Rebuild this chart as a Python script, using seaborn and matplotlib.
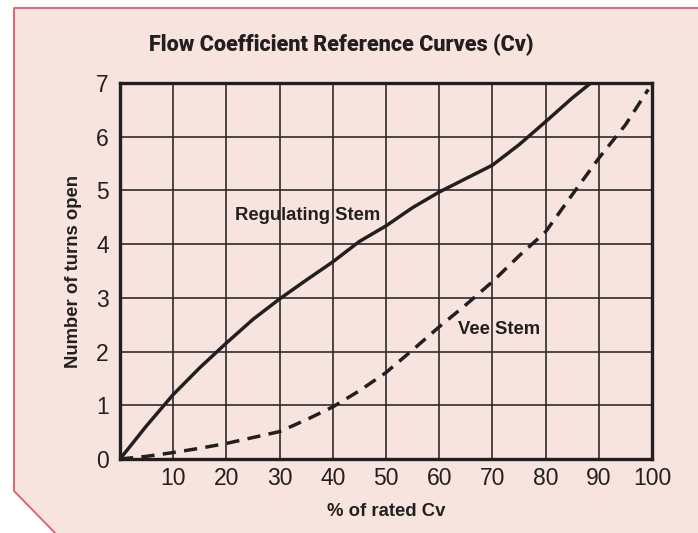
import numpy as np
import pandas as pd
import matplotlib
matplotlib.use("Agg")
import matplotlib.pyplot as plt
from matplotlib.patches import Polygon
from matplotlib.lines import Line2D
import seaborn as sns

# Curve readings (percent of rated Cv vs. number of turns open)
reg_cv = [0, 5, 10, 15, 20, 25, 30, 35, 40, 45, 50, 55, 60, 65, 70, 75, 80, 85, 88.5]
reg_turns = [0, 0.62, 1.2, 1.7, 2.16, 2.6, 2.98, 3.33, 3.67, 4.05, 4.34, 4.68,
             4.97, 5.22, 5.47, 5.85, 6.28, 6.72, 7.0]

vee_cv = [0, 5, 10, 15, 20, 25, 30, 35, 40, 45, 50, 55, 60, 65, 70, 75, 80,
          85, 90, 95, 99.3]
vee_turns = [0, 0.05, 0.12, 0.2, 0.29, 0.40, 0.51, 0.73, 0.97, 1.27, 1.61, 2.03,
             2.46, 2.87, 3.30, 3.78, 4.23, 4.92, 5.6, 6.22, 6.88]

x_ticks = [0, 10, 20, 30, 40, 50, 60, 70, 80, 90, 100]
x_tick_labels = ["", "10", "20", "30", "40", "50", "60", "70", "80", "90", "100"]
y_ticks = [0, 1, 2, 3, 4, 5, 6, 7]

PINK = "#f8e4df"
BORDER = "#e05a70"
INK = "#231f20"

reg = pd.DataFrame({"cv": reg_cv, "turns": reg_turns, "stem": "Regulating Stem"})
vee = pd.DataFrame({"cv": vee_cv, "turns": vee_turns, "stem": "Vee Stem"})

sns.set_style("white")
plt.rcParams["font.family"] = ["Liberation Sans", "DejaVu Sans"]

W, H = 698, 533
fig = plt.figure(figsize=(W / 100, H / 100), dpi=100)
fig.patch.set_facecolor("white")

# pink panel with clipped bottom-left corner
def fx(px):
    return px / W

def fy(py):
    return 1 - py / H

panel = Polygon([(fx(14), fy(8)), (fx(W + 5), fy(8)), (fx(W + 5), fy(H + 5)),
                 (fx(60), fy(H + 5)), (fx(14), fy(491))],
                closed=True, transform=fig.transFigure, facecolor=PINK,
                edgecolor="none", zorder=-10)
fig.patches.append(panel)
border = Line2D([fx(W + 5), fx(14), fx(14), fx(60)], [fy(8), fy(8), fy(491), fy(H + 5)],
                transform=fig.transFigure, color=BORDER, lw=1.3, zorder=-9)
fig.lines.append(border)

ax = fig.add_axes([120 / W, 1 - 459 / H, 532 / W, 376 / H])
ax.set_facecolor("none")

sns.lineplot(data=reg, x="cv", y="turns", ax=ax, color=INK, lw=2.5,
             sort=False, estimator=None, legend=False)
sns.lineplot(data=vee, x="cv", y="turns", ax=ax, color=INK, lw=2.5,
             sort=False, estimator=None, legend=False, linestyle=(0, (3.8, 2.4)))

ax.set_xlim(0, 100)
ax.set_ylim(0, 7)
ax.set_xticks(x_ticks)
ax.set_xticklabels(x_tick_labels)
ax.set_yticks(y_ticks)
ax.tick_params(axis="both", length=0, labelsize=16.5, colors=INK)
ax.tick_params(axis="x", pad=6)
ax.tick_params(axis="y", pad=8)
ax.grid(True, color="#2e2a2a", lw=1.2)
for s in ax.spines.values():
    s.set_visible(True)
    s.set_color(INK)
    s.set_linewidth(2.4)

ax.set_xlabel("% of rated Cv", fontsize=13.3, fontweight="bold", color=INK, labelpad=9)
ax.set_ylabel("Number of turns open", fontsize=13.3, fontweight="bold", color=INK, labelpad=10)

ax.text(35.3, 4.54, "Regulating Stem", fontsize=13.3, fontweight="bold", color=INK,
        ha="center", va="center")
ax.text(71.2, 2.42, "Vee Stem", fontsize=13.3, fontweight="bold", color=INK,
        ha="center", va="center")

fig.text(341 / W, 1 - 45 / H, "Flow Coefficient Reference Curves (Cv)",
         family=["Roboto", "DejaVu Sans"], fontweight="heavy", fontsize=15.5, color=INK,
         ha="center", va="center")

fig.savefig("out.png", dpi=100)
